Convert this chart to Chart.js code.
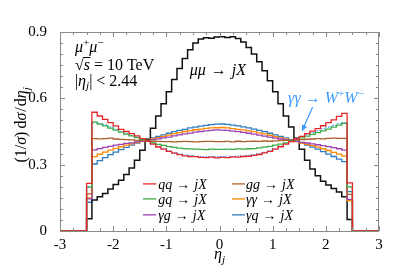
<!DOCTYPE html>
<html>
<head>
<meta charset="utf-8">
<script src="https://cdn.jsdelivr.net/npm/chart.js@4/dist/chart.umd.min.js"></script>
<style>
	body { margin: 0; background: #fff; }
	canvas { display: block; }
</style>
</head>
<body>
<canvas id="eta-chart" width="399" height="266"></canvas>
<script>
// histogram bins: 50 bins of width 0.1 from -2.5 to 2.5
const binStart = -2.5;
const binWidth = 0.1;
const xTicks = [-3, -2, -1, 0, 1, 2, 3];
const yTicks = [0, 0.3, 0.6, 0.9];

const muMu = [
	0.055, 0.14, 0.155, 0.17, 0.19, 0.21, 0.23, 0.255, 0.285, 0.32,
	0.365, 0.415, 0.465, 0.52, 0.575, 0.63, 0.685, 0.735, 0.78, 0.82,
	0.85, 0.868, 0.874, 0.872, 0.877, 0.878, 0.875, 0.879, 0.871, 0.855,
	0.83, 0.8, 0.765, 0.725, 0.68, 0.63, 0.575, 0.52, 0.47, 0.42,
	0.37, 0.32, 0.28, 0.25, 0.225, 0.208, 0.192, 0.176, 0.155, 0.052,
];
const qq = [
	0.215, 0.537, 0.52, 0.505, 0.49, 0.475, 0.46, 0.45, 0.44, 0.43,
	0.418, 0.405, 0.393, 0.38, 0.37, 0.36, 0.352, 0.345, 0.34, 0.337,
	0.336, 0.333, 0.332, 0.334, 0.331, 0.333, 0.332, 0.335, 0.334, 0.337,
	0.338, 0.342, 0.346, 0.353, 0.36, 0.37, 0.381, 0.393, 0.404, 0.416,
	0.428, 0.44, 0.452, 0.463, 0.476, 0.49, 0.503, 0.518, 0.532, 0.218,
];
const gq = [
	0.198, 0.492, 0.483, 0.475, 0.465, 0.456, 0.447, 0.438, 0.43, 0.422,
	0.413, 0.405, 0.398, 0.392, 0.387, 0.382, 0.378, 0.375, 0.373, 0.371,
	0.37, 0.369, 0.368, 0.37, 0.369, 0.369, 0.37, 0.369, 0.371, 0.37,
	0.372, 0.373, 0.376, 0.379, 0.383, 0.388, 0.393, 0.399, 0.406, 0.413,
	0.421, 0.429, 0.437, 0.445, 0.453, 0.461, 0.47, 0.479, 0.487, 0.2,
];
const gg = [
	0.168, 0.418, 0.417, 0.418, 0.42, 0.416, 0.414, 0.413, 0.412, 0.41,
	0.409, 0.407, 0.406, 0.405, 0.404, 0.404, 0.403, 0.404, 0.405, 0.404,
	0.403, 0.404, 0.405, 0.405, 0.404, 0.404, 0.405, 0.403, 0.406, 0.404,
	0.405, 0.406, 0.405, 0.407, 0.406, 0.408, 0.409, 0.41, 0.411, 0.412,
	0.413, 0.415, 0.416, 0.418, 0.417, 0.419, 0.42, 0.419, 0.419, 0.166,
];
const gammaG = [
	0.145, 0.367, 0.373, 0.378, 0.383, 0.388, 0.392, 0.396, 0.399, 0.403,
	0.406, 0.409, 0.413, 0.417, 0.421, 0.425, 0.43, 0.435, 0.439, 0.443,
	0.447, 0.45, 0.453, 0.455, 0.457, 0.456, 0.455, 0.452, 0.449, 0.446,
	0.442, 0.438, 0.434, 0.429, 0.425, 0.42, 0.416, 0.412, 0.408, 0.405,
	0.401, 0.398, 0.394, 0.39, 0.386, 0.382, 0.377, 0.372, 0.366, 0.143,
];
const gammaGamma = [
	0.15, 0.336, 0.347, 0.357, 0.366, 0.374, 0.381, 0.388, 0.394, 0.4,
	0.405, 0.41, 0.416, 0.422, 0.428, 0.434, 0.44, 0.445, 0.45, 0.454,
	0.458, 0.461, 0.464, 0.466, 0.467, 0.468, 0.466, 0.463, 0.46, 0.457,
	0.453, 0.449, 0.444, 0.439, 0.433, 0.427, 0.421, 0.415, 0.409, 0.404,
	0.398, 0.392, 0.386, 0.379, 0.372, 0.364, 0.356, 0.348, 0.339, 0.137,
];
const gammaQ = [
	0.13, 0.303, 0.318, 0.332, 0.345, 0.357, 0.368, 0.378, 0.388, 0.397,
	0.405, 0.413, 0.421, 0.428, 0.435, 0.442, 0.449, 0.455, 0.46, 0.466,
	0.47, 0.474, 0.478, 0.481, 0.483, 0.484, 0.482, 0.479, 0.475, 0.471,
	0.466, 0.461, 0.455, 0.449, 0.442, 0.435, 0.428, 0.421, 0.413, 0.405,
	0.397, 0.388, 0.379, 0.37, 0.359, 0.348, 0.337, 0.325, 0.314, 0.178,
];
const gammaGammaWW = [
	0.2, 0.49, 0.487, 0.48, 0.47, 0.46, 0.45, 0.44, 0.432, 0.425,
	0.416, 0.407, 0.395, 0.383, 0.372, 0.362, 0.355, 0.348, 0.343, 0.34,
	0.338, 0.337, 0.336, 0.337, 0.336, 0.336, 0.338, 0.337, 0.339, 0.34,
	0.342, 0.345, 0.35, 0.356, 0.363, 0.373, 0.384, 0.396, 0.408, 0.418,
	0.427, 0.436, 0.445, 0.454, 0.462, 0.47, 0.478, 0.485, 0.49, 0.2,
];

const colors = {
	black: "#111111",
	red: "#e8262b",
	green: "#3cae45",
	brown: "#b0602c",
	purple: "#9b42b2",
	orange: "#ff8800",
	blue: "#2e7dc0",
	lightBlue: "#3d9bff",
	frame: "#8a8a8a",
};

const serif = '"Liberation Serif", "DejaVu Serif", serif';

// histogram as stepped line: value held from left bin edge until next edge
const toSteps = vals => {
	const pts = [{ x: -3, y: 0 }];
	vals.forEach((v, i) => pts.push({ x: +(binStart + i * binWidth).toFixed(2), y: v }));
	pts.push({ x: 2.5, y: 0 }, { x: 3, y: 0 });
	return pts;
};

const histSet = (vals, color, width, dash) => ({
	data: toSteps(vals),
	borderColor: color,
	borderWidth: width,
	borderDash: dash || [],
	stepped: true,
	pointRadius: 0,
	fill: false,
	borderJoinStyle: "miter",
	borderCapStyle: "butt",
});

// draws a run of text pieces, returns its width
const richText = (ctx, x, y, parts, size, draw = true) => {
	let cx = x;
	for (const p of parts) {
		if (p.gap) { cx += p.gap; continue; }
		const s = p.sup || p.sub ? size * 0.7 : size;
		ctx.font = `${p.i ? "italic " : ""}${s}px ${serif}`;
		const dy = p.sup ? -size * 0.4 : p.sub ? size * 0.22 : 0;
		if (draw) ctx.fillText(p.t, cx, y + dy);
		cx += ctx.measureText(p.t).width;
	}
	return cx - x;
};

const legendRows = [
	{ col: 0, row: 0, color: colors.red, parts: [{ t: "qq", i: 1 }] },
	{ col: 0, row: 1, color: colors.green, parts: [{ t: "gq", i: 1 }] },
	{ col: 0, row: 2, color: colors.purple, parts: [{ t: "γg", i: 1 }] },
	{ col: 1, row: 0, color: colors.brown, parts: [{ t: "gg", i: 1 }] },
	{ col: 1, row: 1, color: colors.orange, parts: [{ t: "γγ", i: 1 }] },
	{ col: 1, row: 2, color: colors.blue, parts: [{ t: "γq", i: 1 }] },
];

const framePlugin = {
	id: "frame",
	afterDatasetsDraw(chart) {
		const { ctx, chartArea: a, scales: { x, y } } = chart;
		ctx.save();
		ctx.strokeStyle = colors.frame;
		ctx.lineWidth = 1;
		ctx.strokeRect(Math.round(a.left) + 0.5, Math.round(a.top) + 0.5,
			Math.round(a.right - a.left) - 1, Math.round(a.bottom - a.top));
		ctx.beginPath();
		for (let i = 0; i <= 24; i++) {
			const v = -3 + i * 0.25;
			const px = Math.round(x.getPixelForValue(v)) + 0.5;
			const len = i % 4 === 0 ? 5 : 3;
			ctx.moveTo(px, a.bottom); ctx.lineTo(px, a.bottom - len);
			ctx.moveTo(px, a.top); ctx.lineTo(px, a.top + len);
		}
		for (let i = 0; i <= 18; i++) {
			const v = i * 0.05;
			const py = Math.round(y.getPixelForValue(v)) + 0.5;
			const len = i % 6 === 0 ? 5 : 3;
			ctx.moveTo(a.left, py); ctx.lineTo(a.left + len, py);
			ctx.moveTo(a.right, py); ctx.lineTo(a.right - len, py);
		}
		ctx.stroke();

		// text inside the plot
		ctx.fillStyle = "#000";
		ctx.textBaseline = "alphabetic";
		ctx.textAlign = "left";
		const tx = x.getPixelForValue(-2.72);
		richText(ctx, tx, y.getPixelForValue(0.81),
			[{ t: "μ", i: 1 }, { t: "+", sup: 1 }, { t: "μ", i: 1 }, { t: "−", sup: 1 }], 16);
		const rootY = y.getPixelForValue(0.728);
		let w = richText(ctx, tx, rootY, [{ t: "√" }], 16);
		const sW = richText(ctx, tx + w, rootY, [{ t: "s", i: 1 }], 16);
		ctx.beginPath();
		ctx.moveTo(tx + w - 0.5, rootY - 12.5); ctx.lineTo(tx + w + sW + 0.5, rootY - 12.5);
		ctx.strokeStyle = "#000"; ctx.stroke();
		richText(ctx, tx + w + sW, rootY,
			[{ gap: 4 }, { t: "=" }, { gap: 4 }, { t: "10" }, { gap: 4 }, { t: "TeV" }], 16);
		richText(ctx, tx, y.getPixelForValue(0.656),
			[{ t: "|" }, { t: "η", i: 1 }, { t: "j", i: 1, sub: 1 }, { t: "|" }, { gap: 4 },
				{ t: "<" }, { gap: 4 }, { t: "2.44" }], 16);

		richText(ctx, x.getPixelForValue(-0.56), y.getPixelForValue(0.706),
			[{ t: "μμ", i: 1 }, { gap: 5 }, { t: "→" }, { gap: 5 }, { t: "jX", i: 1 }], 16);

		ctx.fillStyle = colors.lightBlue;
		richText(ctx, x.getPixelForValue(1.29), y.getPixelForValue(0.579),
			[{ t: "γγ", i: 1 }, { gap: 4 }, { t: "→" }, { gap: 4 }, { t: "W", i: 1 }, { t: "+", sup: 1 },
				{ t: "W", i: 1 }, { t: "−", sup: 1 }], 16);
		// arrow to the dotted curve
		const ax0 = x.getPixelForValue(1.75), ay0 = y.getPixelForValue(0.56);
		const ax1 = x.getPixelForValue(1.55), ay1 = y.getPixelForValue(0.45);
		const ang = Math.atan2(ay1 - ay0, ax1 - ax0);
		ctx.strokeStyle = colors.lightBlue;
		ctx.lineWidth = 1.2;
		ctx.beginPath();
		ctx.moveTo(ax0, ay0); ctx.lineTo(ax1 - 4 * Math.cos(ang), ay1 - 4 * Math.sin(ang));
		ctx.stroke();
		ctx.beginPath();
		ctx.moveTo(ax1, ay1);
		ctx.lineTo(ax1 - 7 * Math.cos(ang - 0.4), ay1 - 7 * Math.sin(ang - 0.4));
		ctx.lineTo(ax1 - 7 * Math.cos(ang + 0.4), ay1 - 7 * Math.sin(ang + 0.4));
		ctx.closePath();
		ctx.fill();

		// legend
		const colX = [[-1.44, -1.19, -1.15], [0.235, 0.48, 0.5]];
		const rowY = [0.213, 0.145, 0.073];
		legendRows.forEach(r => {
			const [l0, l1, t0] = colX[r.col];
			const py = y.getPixelForValue(rowY[r.row]);
			ctx.strokeStyle = r.color;
			ctx.lineWidth = 1.3;
			ctx.beginPath();
			ctx.moveTo(x.getPixelForValue(l0), py); ctx.lineTo(x.getPixelForValue(l1), py);
			ctx.stroke();
			ctx.fillStyle = "#000";
			richText(ctx, x.getPixelForValue(t0), py + 5,
				[...r.parts, { gap: 4 }, { t: "→" }, { gap: 4 }, { t: "jX", i: 1 }], 14);
		});

		// axis titles
		const xt = [{ t: "η", i: 1 }, { t: "j", i: 1, sub: 1 }];
		const xw = richText(ctx, 0, 0, xt, 16, false);
		richText(ctx, x.getPixelForValue(0) - xw / 2, a.bottom + 28, xt, 16);

		const yt = [{ t: "(1/" }, { t: "σ", i: 1 }, { t: ")" }, { gap: 3 }, { t: "d" }, { t: "σ", i: 1 },
			{ gap: 1 }, { t: "/" }, { gap: 1 }, { t: "d" }, { t: "η", i: 1 }, { t: "j", i: 1, sub: 1 }];
		const yw = richText(ctx, 0, 0, yt, 16, false);
		ctx.translate(a.left - 34, y.getPixelForValue(0.48));
		ctx.rotate(-Math.PI / 2);
		richText(ctx, -yw / 2, 0, yt, 16);
		ctx.restore();
	},
};

const getChart = () => {
	const ctx = document.getElementById("eta-chart");
	new Chart(ctx, {
		type: "line",
		data: {
			datasets: [
				histSet(qq, colors.red, 1.3),
				histSet(gq, colors.green, 1.3),
				histSet(gg, colors.brown, 1.3),
				histSet(gammaG, colors.purple, 1.3),
				histSet(gammaGamma, colors.orange, 1.3),
				histSet(gammaGammaWW, colors.lightBlue, 1.2, [1.5, 1.5]),
				histSet(muMu, colors.black, 1.5),
				histSet(gammaQ, colors.blue, 1.3),
			],
		},
		options: {
			responsive: false,
			animation: false,
			layout: { padding: { top: 32, right: 20, left: 0, bottom: 0 } },
			plugins: {
				legend: { display: false },
				tooltip: { enabled: false },
			},
			scales: {
				x: {
					type: "linear",
					min: -3,
					max: 3,
					afterBuildTicks: s => { s.ticks = xTicks.map(v => ({ value: v })); },
					ticks: { color: "#000", font: { family: serif, size: 15 }, padding: -3, maxRotation: 0 },
					grid: { display: false },
					border: { display: false },
					afterFit: s => { s.height = 35; },
				},
				y: {
					min: 0,
					max: 0.9,
					afterBuildTicks: s => { s.ticks = yTicks.map(v => ({ value: v })); },
					ticks: { color: "#000", font: { family: serif, size: 15 }, padding: 5 },
					grid: { display: false },
					border: { display: false },
					afterFit: s => { s.width = 60; },
				},
			},
		},
		plugins: [framePlugin],
	});
};

getChart();
</script>
</body>
</html>
